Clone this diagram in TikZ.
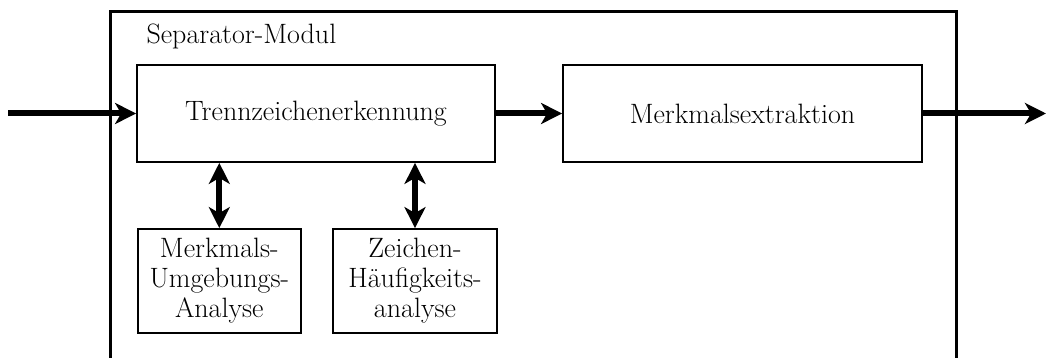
\documentclass[tikz,border=0pt]{standalone}
\usetikzlibrary{arrows.meta}
\begin{document}
\begin{tikzpicture}[x=1pt,y=-1pt,
  txt/.style={font=\fontsize{28}{30}\selectfont},
  block/.style={draw, line width=1.8pt, inner sep=0pt, txt, align=center},
  flow/.style={line width=6pt, -{Stealth[length=21pt,width=21pt,inset=6pt]}},
  dflow/.style={line width=6pt, {Stealth[length=21pt,width=21pt,inset=6pt]}-{Stealth[length=21pt,width=21pt,inset=6pt]}}]
  \useasboundingbox (0,0) rectangle (1047,358);
  \clip (0,0) rectangle (1047,358);

  % enclosing module frame (runs past the lower edge)
  \node[draw, line width=2.6pt, minimum width=846pt, minimum height=380pt, inner sep=0pt, anchor=north west]
    (modul) at (109,10) {};
  \node[txt, anchor=base west] (modullabel) at (143,44) {Separator-Modul};

  % main processing chain
  \node[block, minimum width=358pt, minimum height=97pt] (trenn) at (316,113.5) {Trennzeichenerkennung};
  \node[block, minimum width=359pt, minimum height=97pt] (merk) at (742.5,113.5) {Merkmalsextraktion};

  % helper analyses
  \node[block, minimum width=163pt, minimum height=104pt] (umg) at (219.3,281) {Merkmals-\\Umgebungs-\\Analyse};
  \node[block, minimum width=164pt, minimum height=104pt] (hfg) at (415,281) {Zeichen-\\Häufigkeits-\\analyse};

  \coordinate (in) at (8,113.5);
  \coordinate (out) at (1046,113.5);

  \draw[flow] (in) -- (trenn.west);
  \draw[flow] (trenn.east) -- (merk.west);
  \draw[flow] (merk.east) -- (out);

  \draw[dflow] (umg.north |- trenn.south) -- (umg.north);
  \draw[dflow] (hfg.north |- trenn.south) -- (hfg.north);
\end{tikzpicture}
\end{document}
